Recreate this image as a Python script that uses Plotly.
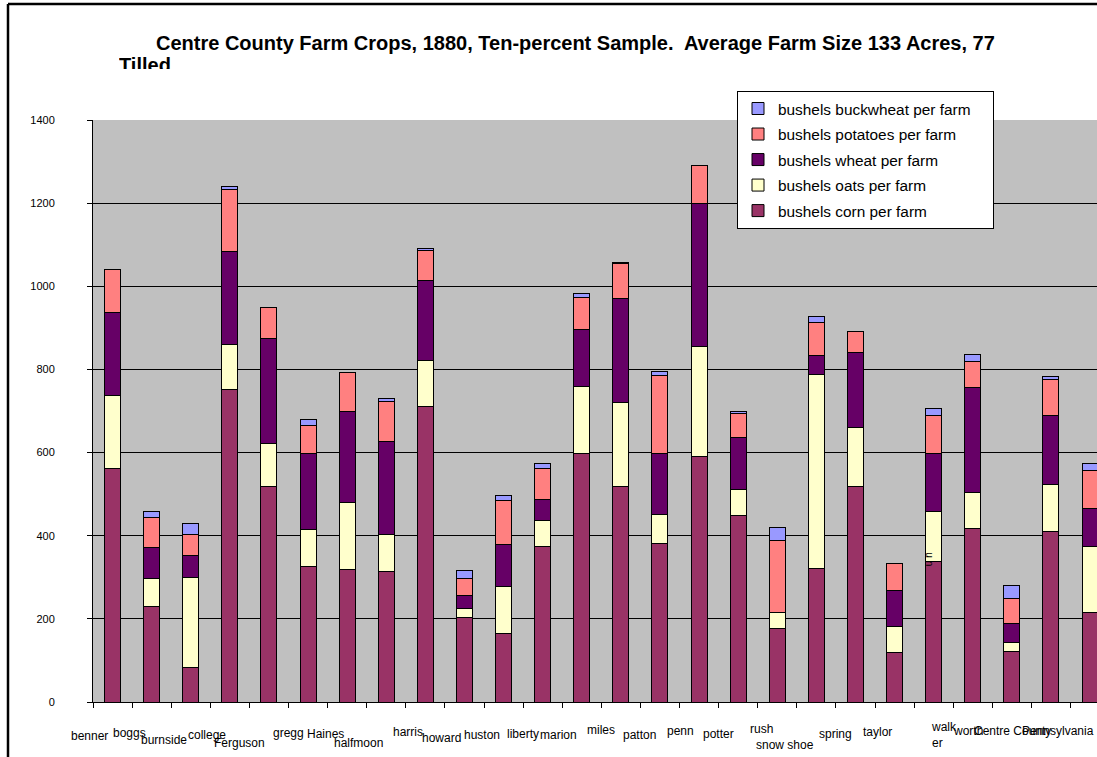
import plotly.graph_objects as go

# Townships of Centre County plus county and state averages (bushels per farm)
categories = [
    "benner", "boggs", "burnside", "college", "Ferguson", "gregg", "Haines",
    "halfmoon", "harris", "howard", "huston", "liberty", "marion", "miles",
    "patton", "penn", "potter", "rush", "snow shoe", "spring", "taylor",
    "union", "walker", "worth", "Centre County", "Pennsylvania",
]
corn = [562, 230, 83, 751, 518, 327, 319, 314, 711, 203, 164, 373, 598, 518,
        382, 590, 448, 176, 321, 518, 118, 338, 418, 121, 409, 216]
oats = [175, 66, 217, 109, 103, 87, 161, 88, 111, 23, 113, 63, 161, 202,
        69, 265, 62, 40, 468, 143, 63, 121, 86, 21, 115, 157]
wheat = [199, 75, 52, 223, 253, 184, 220, 225, 193, 30, 101, 51, 138, 250,
         147, 343, 126, 0, 45, 179, 87, 139, 253, 47, 166, 92]
potatoes = [105, 72, 51, 150, 74, 68, 93, 95, 72, 41, 106, 75, 76, 84,
            188, 93, 59, 173, 78, 51, 64, 90, 62, 60, 86, 91]
buckwheat = [0, 16, 26, 7, 0, 14, 0, 8, 4, 19, 12, 12, 10, 3,
             9, 0, 4, 30, 15, 0, 0, 19, 18, 31, 8, 17]

y_ticks = [0, 200, 400, 600, 800, 1000, 1200, 1400]

title_line1 = "Centre County Farm Crops, 1880, Ten-percent Sample.\u00a0 Average Farm Size 133 Acres, 77"
title_line2 = "Tilled"

# (legend name, values, colour, legend position from top)
series = [
    ("bushels corn per farm", corn, "#993366", 5),
    ("bushels oats per farm", oats, "#FFFFCC", 4),
    ("bushels wheat per farm", wheat, "#660066", 3),
    ("bushels potatoes per farm", potatoes, "#FF8080", 2),
    ("bushels buckwheat per farm", buckwheat, "#9999FF", 1),
]

FONT = "Liberation Sans, Arial, sans-serif"

# Plot-area geometry in pixels
W, H = 1097, 757
L, T, B = 93, 120, 702          # left edge, top (1400) and bottom (0) of plot area
PW = 1004                        # visible plot width
PH = B - T
CAT_PX = 39.1                    # width of one category slot
LEGEND_PAD = "\u00a0" * 4        # widens the legend box a little


def px_x(px):
    return (px - L) / PW


def px_y(py):
    return (B - py) / PH


fig = go.Figure()
for name, vals, color, rank in series:
    fig.add_trace(go.Bar(
        x=categories, y=vals, name=name + LEGEND_PAD, legendgroup=name,
        legendrank=rank,
        marker=dict(color=color, line=dict(color="black", width=1)),
    ))

# Category label placement: horizontal offset from the bar centre and
# vertical distance below the x axis (pixels)
label_dx = [-23, -22, -27, -23, -29, -20, -22, -28, -17, -23, -22, -20, -23,
            -20, -20, -19, -20, -16, -31, -20, -17, None, -29, -44, -38, -32]
label_dy = [34, 31, 38, 33, 41, 31, 32, 41, 30, 36, 33, 32, 33, 28, 33, 29,
            32, 27, 43, 32, 30, None, 33, 29, 29, 29]

annotations = []
for cat, dx, dy in zip(categories, label_dx, label_dy):
    if dx is None:
        continue
    text = "walk<br>er" if cat == "walker" else cat
    annotations.append(dict(
        x=cat, xref="x", y=0, yref="paper", text=text, showarrow=False,
        xanchor="center", yanchor="middle", xshift=dx, yshift=-dy,
        align="left", font=dict(family=FONT, size=12, color="black"),
    ))

# squeezed label for the "union" slot, drawn sideways over its bar
annotations.append(dict(
    x="union", xref="x", y=px_y(568), yref="paper", text="u n", showarrow=False,
    textangle=90, xshift=-4, font=dict(family=FONT, size=10, color="black"),
))

# chart title (second line cut off by its text box)
annotations.append(dict(
    x=px_x(575), xref="paper", y=px_y(43), yref="paper",
    text="<b>" + title_line1 + "</b>",
    showarrow=False, xanchor="center", yanchor="middle",
    font=dict(family=FONT, size=20, color="black"),
))
annotations.append(dict(
    x=px_x(117), xref="paper", y=px_y(52), yref="paper",
    text="<b>" + title_line2 + "</b>",
    showarrow=False, xanchor="left", yanchor="top", valign="top", height=15,
    font=dict(family=FONT, size=20, color="black"),
))

# outer chart frame (left and top edges)
shapes = [
    dict(type="line", xref="paper", yref="paper", x0=px_x(8), x1=px_x(8),
         y0=px_y(4), y1=px_y(800), line=dict(color="black", width=2.5)),
    dict(type="line", xref="paper", yref="paper", x0=px_x(8), x1=px_x(1200),
         y0=px_y(4), y1=px_y(4), line=dict(color="black", width=2.5)),
]

fig.update_layout(
    width=W, height=H,
    margin=dict(l=L, r=W - L - PW, t=T, b=H - B, autoexpand=False),
    paper_bgcolor="white", plot_bgcolor="#C0C0C0",
    barmode="stack", bargap=0.59,
    font=dict(family=FONT, size=11, color="black"),
    showlegend=True,
    legend=dict(
        x=px_x(737), y=px_y(91), xanchor="left", yanchor="top",
        traceorder="grouped", tracegroupgap=2.5,
        bgcolor="white", bordercolor="black", borderwidth=1,
        font=dict(family=FONT, size=15.4, color="black"),
        itemwidth=30,
    ),
    xaxis=dict(
        type="category", range=[-0.5, -0.5 + PW / CAT_PX],
        showticklabels=False, ticks="outside", tickson="boundaries",
        ticklen=5, tickcolor="black", showline=True, linecolor="black",
        linewidth=1, showgrid=False, zeroline=False, fixedrange=True,
    ),
    yaxis=dict(
        range=[0, 1400], tickvals=y_ticks, ticks="outside", ticklen=5,
        tickcolor="black", showline=True, linecolor="black", linewidth=1,
        showgrid=True, gridcolor="black", gridwidth=1, zeroline=False,
        ticklabelstandoff=30,
        tickfont=dict(family=FONT, size=11, color="black"),
    ),
    annotations=annotations,
    shapes=shapes,
)

fig.write_html("out.html")
